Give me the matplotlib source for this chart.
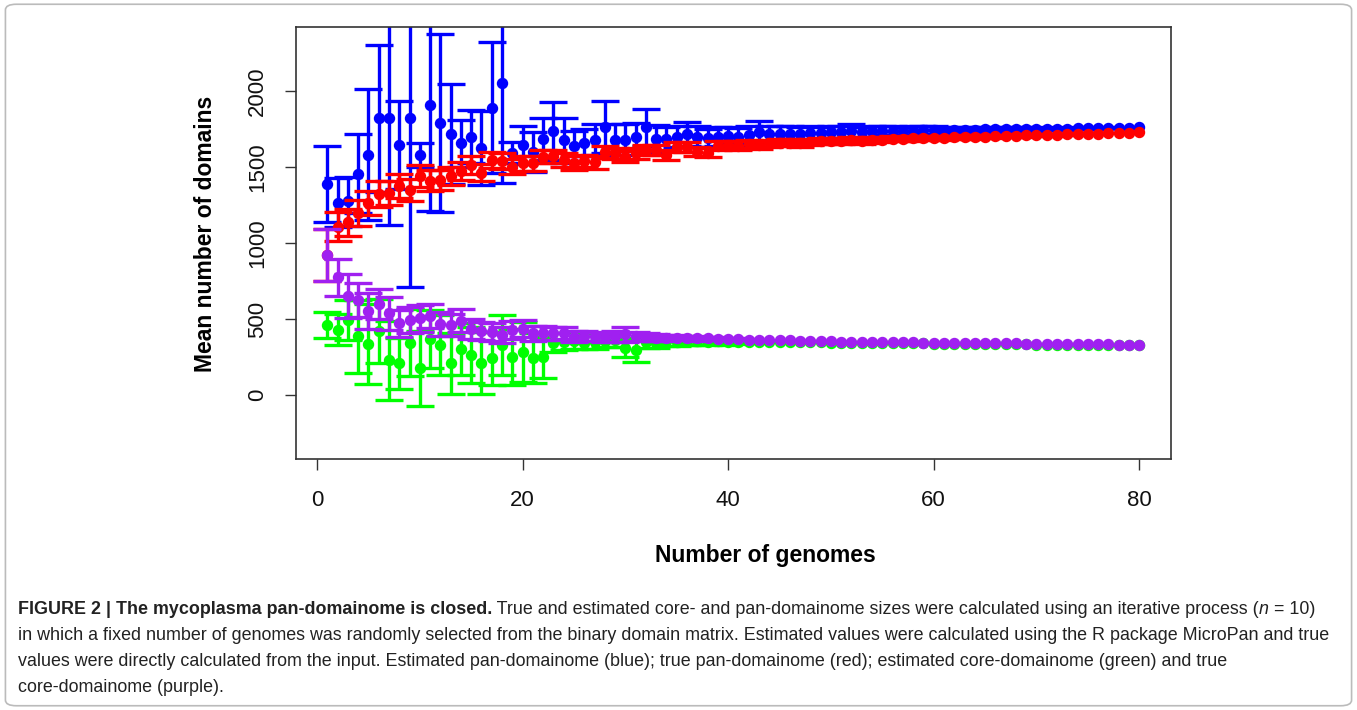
import numpy as np
import matplotlib
matplotlib.use("Agg")
import matplotlib.pyplot as plt
from matplotlib import font_manager
from matplotlib.patches import FancyBboxPatch

plt.rcParams['font.family'] = ['Liberation Sans', 'DejaVu Sans']

# Number of genomes sampled
genomes = np.arange(1, 81)

# Estimated pan-domainome (blue): mean and sd
est_pan = [1390, 1265, 1275, 1455, 1580, 1820, 1820, 1645, 1820, 1580,
           1910, 1790, 1715, 1655, 1700, 1625, 1890, 2055, 1595, 1645,
           1600, 1685, 1735, 1675, 1640, 1660, 1680, 1765, 1680, 1680,
           1700, 1760, 1685, 1685, 1700, 1715, 1700, 1690, 1700, 1705,
           1700, 1710, 1730, 1715, 1720, 1720, 1715, 1725, 1725, 1730,
           1730, 1735, 1730, 1735, 1738, 1740, 1735, 1740, 1742, 1742,
           1740, 1745, 1745, 1745, 1747, 1748, 1748, 1748, 1750, 1750,
           1750, 1752, 1752, 1755, 1755, 1755, 1757, 1757, 1758, 1760]
est_pan_sd = [250, 160, 160, 260, 430, 485, 700, 290, 1110, 80,
              700, 585, 330, 155, 175, 245, 430, 660, 70, 125,
              130, 140, 190, 150, 100, 90, 100, 170, 100, 100,
              90, 120, 90, 80, 70, 80, 70, 60, 60, 55,
              55, 60, 75, 55, 50, 50, 45, 45, 40, 40,
              40, 45, 35, 35, 30, 30, 30, 28, 25, 25,
              22, 20, 20, 18, 16, 15, 14, 12, 11, 10,
              9, 8, 7, 6, 5, 4, 3, 0, 0, 0]

# True pan-domainome (red)
true_pan = [920, 1108, 1136, 1195, 1265, 1322, 1327, 1377, 1349, 1441,
            1410, 1414, 1441, 1476, 1513, 1463, 1546, 1539, 1502, 1524,
            1524, 1568, 1570, 1546, 1524, 1540, 1530, 1600, 1590, 1568,
            1590, 1612, 1612, 1580, 1634, 1630, 1600, 1595, 1640, 1645,
            1640, 1650, 1645, 1655, 1660, 1660, 1655, 1665, 1670, 1668,
            1672, 1675, 1670, 1678, 1680, 1685, 1683, 1688, 1690, 1690,
            1692, 1695, 1697, 1698, 1700, 1702, 1704, 1706, 1708, 1708,
            1710, 1712, 1714, 1716, 1718, 1720, 1722, 1724, 1725, 1727]
true_pan_sd = [170, 95, 90, 85, 80, 85, 80, 80, 75, 70,
               70, 65, 60, 60, 60, 55, 55, 55, 50, 50,
               50, 45, 45, 45, 45, 42, 40, 40, 38, 38,
               36, 35, 35, 34, 33, 32, 31, 30, 30, 29,
               28, 27, 26, 25, 25, 24, 23, 22, 21, 20,
               20, 19, 18, 18, 17, 16, 15, 15, 14, 13,
               13, 12, 11, 11, 10, 9, 9, 8, 8, 7,
               6, 6, 5, 5, 4, 3, 0, 0, 0, 0]

# Estimated core-domainome (green)
est_core = [461, 430, 493, 388, 333, 423, 230, 208, 344, 175,
            368, 329, 208, 303, 263, 212, 241, 329, 252, 285,
            241, 247, 345, 350, 355, 345, 350, 355, 360, 310,
            296, 350, 345, 355, 350, 360, 355, 350, 355, 350,
            350, 352, 352, 348, 350, 350, 346, 347, 346, 345,
            344, 343, 343, 342, 341, 340, 340, 340, 339, 338,
            338, 337, 336, 336, 338, 335, 334, 333, 333, 332,
            331, 331, 330, 330, 329, 328, 328, 327, 326, 326]
est_core_sd = [85, 100, 130, 240, 263, 210, 260, 170, 220, 245,
               190, 200, 200, 170, 186, 205, 175, 200, 185, 197,
               165, 137, 60, 55, 50, 45, 50, 40, 45, 60,
               80, 40, 35, 35, 30, 28, 25, 22, 20, 18,
               15, 12, 10, 0, 0, 0, 0, 0, 0, 0,
               0, 0, 0, 0, 0, 0, 0, 0, 0, 0,
               0, 0, 0, 0, 0, 0, 0, 0, 0, 0,
               0, 0, 0, 0, 0, 0, 0, 0, 0, 0]

# True core-domainome (purple)
true_core = [921, 774, 653, 625, 553, 599, 537, 472, 493, 504,
             522, 467, 461, 489, 432, 423, 417, 395, 428, 437,
             406, 406, 406, 406, 384, 390, 385, 380, 385, 400,
             385, 380, 378, 375, 378, 375, 372, 372, 370, 368,
             366, 365, 363, 360, 360, 362, 358, 356, 355, 353,
             352, 350, 350, 349, 348, 347, 346, 346, 345, 344,
             344, 343, 342, 342, 345, 341, 340, 339, 338, 338,
             336, 336, 335, 335, 334, 333, 333, 332, 331, 330]
true_core_sd = [170, 120, 145, 115, 120, 100, 110, 90, 85, 90,
                80, 80, 70, 75, 65, 60, 60, 55, 60, 55,
                50, 45, 42, 40, 35, 32, 30, 28, 35, 50,
                28, 25, 22, 20, 18, 15, 14, 12, 10, 8,
                6, 4, 0, 0, 0, 0, 0, 0, 0, 0,
                0, 0, 0, 0, 0, 0, 0, 0, 0, 0,
                0, 0, 0, 0, 0, 0, 0, 0, 0, 0,
                0, 0, 0, 0, 0, 0, 0, 0, 0, 0]

caption_lines = [
    [('FIGURE 2 | The mycoplasma pan-domainome is closed.', 'bold', 'normal'),
     (' True and estimated core- and pan-domainome sizes were calculated using an iterative process (', 'normal', 'normal'),
     ('n', 'normal', 'italic'),
     (' = 10)', 'normal', 'normal')],
    [('in which a fixed number of genomes was randomly selected from the binary domain matrix. '
      'Estimated values were calculated using the R package MicroPan and true', 'normal', 'normal')],
    [('values were directly calculated from the input. Estimated pan-domainome (blue); '
      'true pan-domainome (red); estimated core-domainome (green) and true', 'normal', 'normal')],
    [('core-domainome (purple).', 'normal', 'normal')],
]

fig = plt.figure(figsize=(13.57, 7.10), dpi=100)
ax = fig.add_axes([0.2181, 0.3535, 0.6449, 0.6085])


def draw_series(mean, sd, color):
    mean = np.array(mean, dtype=float)
    sd = np.array(sd, dtype=float)
    has_bar = sd > 0
    ax.errorbar(genomes[has_bar], mean[has_bar], yerr=sd[has_bar], fmt='none',
                ecolor=color, elinewidth=2.4, capsize=10.4, capthick=2.4)
    ax.plot(genomes, mean, 'o', color=color, ms=7.2, mec=color)


draw_series(est_pan, est_pan_sd, '#0000FF')
draw_series(true_pan, true_pan_sd, '#FF0000')
draw_series(est_core, est_core_sd, '#00FF00')
draw_series(true_core, true_core_sd, '#A020F0')

ax.set_xlim(-2.05, 83.1)
ax.set_ylim(-421, 2421)
ax.set_xticks([0, 20, 40, 60, 80])
ax.set_yticks([0, 500, 1000, 1500, 2000])
ax.tick_params(axis='both', length=8, width=1, color='#333333',
               labelsize=16, labelcolor='#111111')
ax.tick_params(axis='x', pad=14)
ax.tick_params(axis='y', pad=12)
plt.setp(ax.get_yticklabels(), rotation=90, va='center')
for sp in ax.spines.values():
    sp.set_color('#333333')
    sp.set_linewidth(1.2)

ax.set_xlabel('Number of genomes', fontsize=16.5, fontweight='bold', labelpad=24)
ax.set_ylabel('Mean number of domains', fontsize=16.5, fontweight='bold', labelpad=22)
# labels sit a little off-centre in the original
ax.xaxis.label.set_x(0.536)
ax.yaxis.label.set_y(0.522)

# Caption below the plot
names = {f.name for f in font_manager.fontManager.ttflist}
cap_font = 'Liberation Sans Narrow' if 'Liberation Sans Narrow' in names else 'Liberation Sans'
cap_color = '#222222'
fig.canvas.draw()
renderer = fig.canvas.get_renderer()

# size the caption so that the second line spans the same width as in the figure
probe = fig.text(0, 0, caption_lines[1][0][0], fontsize=10, family=cap_font)
probe_w = probe.get_window_extent(renderer).width
probe.remove()
cap_size = 10 * 1318 / probe_w


def write_pieces(pieces, x0, y0):
    x = x0
    for txt, weight, style in pieces:
        t = fig.text(x, y0, txt, fontsize=cap_size, family=cap_font,
                     fontweight=weight, style=style, color=cap_color,
                     va='center', ha='left', transform=None)
        x = t.get_window_extent(renderer).x1


for i, pieces in enumerate(caption_lines):
    write_pieces(pieces, 18, 710 - (610 + 26 * i))

# Light frame around the whole figure
frame = FancyBboxPatch((0.004, 0.006), 0.992, 0.988, boxstyle='round,pad=0,rounding_size=0.008',
                       transform=fig.transFigure, fill=False, edgecolor='#BBBBBB', lw=1.2)
fig.patches.append(frame)

fig.savefig('out.png', dpi=100)
